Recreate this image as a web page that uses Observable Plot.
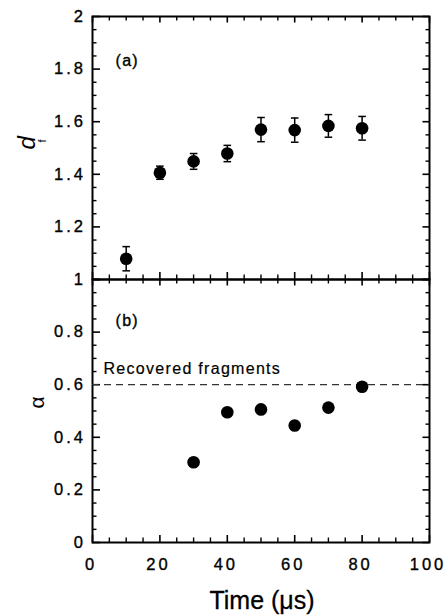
<!DOCTYPE html>
<html><head><meta charset="utf-8">
<script src="https://cdn.jsdelivr.net/npm/d3@7"></script>
<script src="https://cdn.jsdelivr.net/npm/@observablehq/plot@0.6"></script>
<style>
html,body{margin:0;padding:0;background:#fff;}
#chart{position:relative;width:448px;height:616px;}
#chart svg{position:absolute;left:0;top:0;overflow:visible;}
</style></head><body><div id="chart"></div>
<script>
// ---- data ----
const time = [10, 20, 30, 40, 50, 60, 70, 80];
const df = [1.079, 1.406, 1.449, 1.479, 1.570, 1.568, 1.584, 1.575];
const dfErr = [0.046, 0.025, 0.030, 0.031, 0.046, 0.046, 0.043, 0.045];
const alphaTime = [30, 40, 50, 60, 70, 80];
const alpha = [0.305, 0.495, 0.506, 0.445, 0.513, 0.592];
const recoveredLevel = [0.6];
const recoveredLabel = "Recovered fragments";
const xTicks = [0, 20, 40, 60, 80, 100];
const xTickLabels = ["0", "20", "40", "60", "80", "100"];
const dfTicks = [1, 1.2, 1.4, 1.6, 1.8, 2];
const dfTickLabels = ["1", "1.2", "1.4", "1.6", "1.8", "2"];
const alphaTicks = [0, 0.2, 0.4, 0.6, 0.8];
const alphaTickLabels = ["0", "0.2", "0.4", "0.6", "0.8"];
const xTitle = "Time (μs)";
const panelLabels = ["(a)", "(b)"];

// ---- layout ----
const W = 448, H = 616, ML = 92, MR = 19, TOP = 16, MID = 279, BOT = 542;
const PW = W - ML - MR;
const font = "'Liberation Sans', Arial, Helvetica, sans-serif";

const xMinor = d3.range(0, 101, 5).filter(v => v % 20 !== 0);
const topMajor = [1, 1.2, 1.4, 1.6, 1.8, 2];
const topMinor = d3.range(0, 21).filter(i => i % 4 !== 0).map(i => 1 + i * 0.05);
const botMajor = [0, 0.2, 0.4, 0.6, 0.8, 1];
const botMinor = d3.range(0, 21).filter(i => i % 4 !== 0).map(i => i * 0.05);

const topData = time.map((t, i) => ({t, v: df[i], lo: df[i] - dfErr[i], hi: df[i] + dfErr[i]}));
const botData = alphaTime.map((t, i) => ({t, v: alpha[i]}));

const capSymbol = {draw(ctx) { ctx.moveTo(-3.8, 0); ctx.lineTo(3.8, 0); }};

function frameTicks(yMajor, yMinor, ph) {
  return [
    Plot.ruleY(yMajor, {y: d => d, insetRight: PW - 8, strokeWidth: 1.6}),
    Plot.ruleY(yMinor, {y: d => d, insetRight: PW - 4.5, strokeWidth: 1.4}),
    Plot.ruleY(yMajor, {y: d => d, insetLeft: PW - 6.5, strokeWidth: 1.6}),
    Plot.ruleY(yMinor, {y: d => d, insetLeft: PW - 3.5, strokeWidth: 1.4}),
    Plot.ruleX(xTicks, {x: d => d, insetBottom: ph - 6.5, strokeWidth: 1.6}),
    Plot.ruleX(xMinor, {x: d => d, insetBottom: ph - 4.5, strokeWidth: 1.4}),
    Plot.ruleX(xTicks, {x: d => d, insetTop: ph - 7, strokeWidth: 1.6}),
    Plot.ruleX(xMinor, {x: d => d, insetTop: ph - 4.5, strokeWidth: 1.4}),
    Plot.frame({strokeWidth: 2})
  ];
}

const baseStyle = {fontFamily: font, fontSize: "15px", background: "transparent", overflow: "visible", color: "black"};
const bold = {fill: "black", stroke: "black", strokeWidth: 0.35, lineAnchor: "middle"};

const topPlot = Plot.plot({
  width: W, height: H,
  marginLeft: ML, marginRight: MR, marginTop: TOP, marginBottom: H - MID,
  style: baseStyle,
  x: {domain: [0, 100], axis: null},
  y: {domain: [1, 2], axis: null},
  marks: [
    ...frameTicks(topMajor, topMinor, MID - TOP),
    Plot.ruleX(topData, {x: "t", y1: "lo", y2: "hi", strokeWidth: 1.5}),
    Plot.dot(topData, {x: "t", y: "lo", symbol: capSymbol, stroke: "black", fill: "none", strokeWidth: 1.5}),
    Plot.dot(topData, {x: "t", y: "hi", symbol: capSymbol, stroke: "black", fill: "none", strokeWidth: 1.5}),
    Plot.dot(topData, {x: "t", y: "v", r: 6.3, fill: "black", stroke: null}),
    Plot.text(dfTicks, {y: d => d, text: (d, i) => dfTickLabels[i], frameAnchor: "left", textAnchor: "end", dx: -6.5, fontSize: 16.5, ...bold}),
    Plot.text([panelLabels[0]], {text: d => d, frameAnchor: "top-left", textAnchor: "start", dx: 23, dy: 44.5, fontSize: 16, ...bold}),
    Plot.text(["d"], {text: d => d, frameAnchor: "left", lineAnchor: "middle", dx: -65, dy: 1.5, rotate: -90, fontSize: 24, fontStyle: "italic", fill: "black"}),
    Plot.text(["f"], {text: d => d, frameAnchor: "left", lineAnchor: "middle", dx: -50, dy: -5.5, rotate: -90, fontSize: 11, fill: "black"})
  ]
});

const botPlot = Plot.plot({
  width: W, height: H,
  marginLeft: ML, marginRight: MR, marginTop: MID, marginBottom: H - BOT,
  style: baseStyle,
  x: {domain: [0, 100], axis: null},
  y: {domain: [0, 1], axis: null},
  marks: [
    ...frameTicks(botMajor, botMinor, BOT - MID),
    Plot.ruleY(recoveredLevel, {y: d => d, stroke: "#333", strokeWidth: 1.3, strokeDasharray: "7,5"}),
    Plot.text(recoveredLevel, {y: d => d, text: () => recoveredLabel, frameAnchor: "left", lineAnchor: "middle", textAnchor: "start", dx: 11, dy: -16, fontSize: 16, fill: "black", stroke: "black", strokeWidth: 0.2}),
    Plot.dot(botData, {x: "t", y: "v", r: 6.3, fill: "black", stroke: null}),
    Plot.text(alphaTicks, {y: d => d, text: (d, i) => alphaTickLabels[i], frameAnchor: "left", textAnchor: "end", dx: -6.5, fontSize: 16.5, ...bold}),
    Plot.text(xTicks, {x: d => d, text: (d, i) => xTickLabels[i], frameAnchor: "bottom", dy: 22, dx: -1.5, fontSize: 16.5, ...bold}),
    Plot.text([panelLabels[1]], {text: d => d, frameAnchor: "top-left", textAnchor: "start", dx: 23, dy: 41, fontSize: 16, ...bold}),
    Plot.text(["α"], {text: d => d, frameAnchor: "left", lineAnchor: "middle", dx: -55.5, dy: -2.5, rotate: -90, fontSize: 21, fill: "black"}),
    Plot.text([xTitle], {text: d => d, frameAnchor: "bottom", lineAnchor: "middle", dx: 1, dy: 58, fontSize: 25, fill: "black", stroke: "black", strokeWidth: 0.3})
  ]
});

const chart = document.getElementById("chart");
chart.appendChild(botPlot);
chart.appendChild(topPlot);
const tickSet = new Set([...xTickLabels, ...dfTickLabels, ...alphaTickLabels]);
const spacedSet = new Set([...panelLabels, recoveredLabel]);
for (const svg of [topPlot, botPlot]) {
  d3.select(svg).selectAll("text").each(function () {
    const s = this.textContent;
    if (tickSet.has(s)) this.style.letterSpacing = "3px";
    else if (spacedSet.has(s)) this.style.letterSpacing = "1.3px";
  });
}
</script></body></html>
